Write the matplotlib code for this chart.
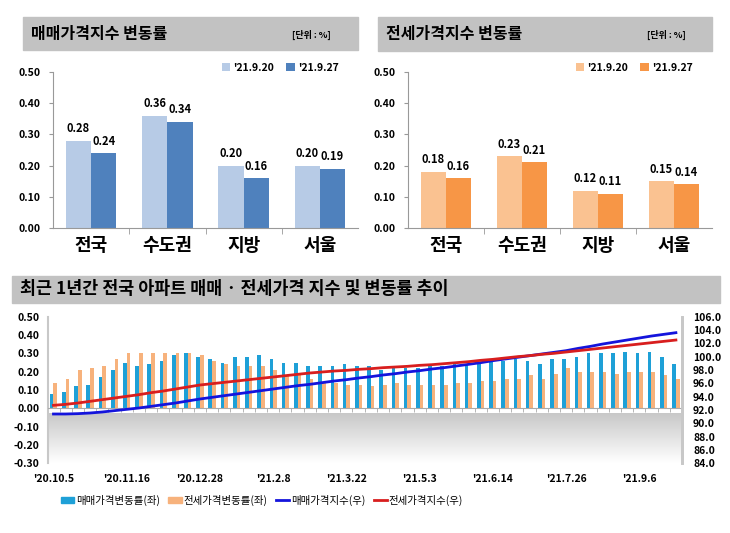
import numpy as np
import matplotlib
matplotlib.use("Agg")
import matplotlib.pyplot as plt
from matplotlib.patches import Rectangle, Patch
from matplotlib.lines import Line2D

plt.rcParams['font.family'] = ['Noto Sans CJK KR', 'DejaVu Sans']

# -----------------------------
# data
# -----------------------------
regions = ["전국", "수도권", "지방", "서울"]
week_labels = ["'21.9.20", "'21.9.27"]
sale_prev = [0.28, 0.36, 0.20, 0.20]
sale_last = [0.24, 0.34, 0.16, 0.19]
jeonse_prev = [0.18, 0.23, 0.12, 0.15]
jeonse_last = [0.16, 0.21, 0.11, 0.14]

tick_dates = ["'20.10.5", "'20.11.16", "'20.12.28", "'21.2.8", "'21.3.22",
              "'21.5.3", "'21.6.14", "'21.7.26", "'21.9.6"]

# weekly change rate (%), 52 weeks from '20.10.5 to '21.9.27
sale_rate = [0.08, 0.09, 0.12, 0.13, 0.17, 0.21, 0.25, 0.23, 0.24, 0.26,
             0.29, 0.30, 0.28, 0.27, 0.25, 0.28, 0.28, 0.29, 0.27, 0.25,
             0.25, 0.23, 0.23, 0.23, 0.24, 0.23, 0.23, 0.21, 0.23, 0.22,
             0.22, 0.23, 0.23, 0.24, 0.24, 0.25, 0.26, 0.26, 0.27, 0.26,
             0.24, 0.27, 0.27, 0.28, 0.30, 0.30, 0.30, 0.31, 0.30, 0.31,
             0.28, 0.24]
jeonse_rate = [0.14, 0.16, 0.21, 0.22, 0.23, 0.27, 0.30, 0.30, 0.30, 0.30,
               0.30, 0.30, 0.29, 0.26, 0.24, 0.23, 0.23, 0.23, 0.21, 0.18,
               0.18, 0.16, 0.14, 0.14, 0.13, 0.13, 0.12, 0.13, 0.14, 0.13,
               0.13, 0.13, 0.13, 0.14, 0.14, 0.15, 0.15, 0.16, 0.16, 0.18,
               0.16, 0.19, 0.22, 0.20, 0.20, 0.20, 0.19, 0.20, 0.20, 0.20,
               0.18, 0.16]
# price index (right axis)
sale_index = [91.40, 91.40, 91.45, 91.55, 91.70, 91.90, 92.10, 92.30, 92.55, 92.80,
              93.05, 93.35, 93.65, 93.90, 94.15, 94.40, 94.65, 94.90, 95.15, 95.40,
              95.65, 95.85, 96.10, 96.35, 96.55, 96.80, 97.00, 97.25, 97.45, 97.70,
              97.90, 98.15, 98.35, 98.60, 98.85, 99.10, 99.40, 99.65, 99.90, 100.15,
              100.40, 100.65, 100.90, 101.25, 101.55, 101.90, 102.20, 102.50, 102.80, 103.10,
              103.35, 103.60]
jeonse_index = [92.70, 92.85, 93.05, 93.30, 93.55, 93.80, 94.05, 94.30, 94.60, 94.85,
                95.15, 95.45, 95.75, 95.95, 96.15, 96.35, 96.55, 96.75, 96.95, 97.15,
                97.35, 97.55, 97.70, 97.85, 97.95, 98.10, 98.20, 98.35, 98.45, 98.55,
                98.70, 98.80, 98.95, 99.10, 99.25, 99.45, 99.60, 99.80, 100.00, 100.15,
                100.35, 100.50, 100.70, 100.90, 101.10, 101.30, 101.50, 101.70, 101.90, 102.10,
                102.30, 102.50]

W, H = 730, 533
fig = plt.figure(figsize=(W / 100, H / 100), dpi=100)


def fx(x):
    return x / W


def fy(y):
    return 1 - y / H


def header(x0, x1, y0, y1, title, size, unit=None, unit_x=None):
    fig.patches.append(Rectangle((fx(x0), fy(y1)), fx(x1 - x0), (y1 - y0) / H,
                                 transform=fig.transFigure, color="#c2c2c2", zorder=0))
    fig.text(fx(x0 + 8), fy((y0 + y1) / 2), title, fontsize=size, fontweight="bold",
             va="center", ha="left")
    if unit:
        fig.text(fx(unit_x), fy((y0 + y1) / 2 + 1), unit, fontsize=6.5, fontweight="bold",
                 va="center", ha="right")


def small_bar_chart(rect, prev, last, c_prev, c_last, legend_x):
    ax = fig.add_axes(rect)
    x = np.arange(len(regions))
    w = 0.33
    b1 = ax.bar(x - w / 2, prev, w, color=c_prev, label=week_labels[0])
    b2 = ax.bar(x + w / 2, last, w, color=c_last, label=week_labels[1])
    ax.bar_label(b1, fmt="%.2f", padding=4, fontsize=8, fontweight="bold")
    ax.bar_label(b2, fmt="%.2f", padding=4, fontsize=8, fontweight="bold")
    ax.set_xlim(-0.5, 3.5)
    ax.set_ylim(0, 0.5)
    ax.set_yticks(np.arange(0, 0.51, 0.1))
    ax.set_yticklabels(["%.2f" % v for v in np.arange(0, 0.51, 0.1)],
                       fontsize=7.5, fontweight="bold")
    ax.set_xticks(x)
    ax.set_xticklabels(regions, fontsize=13, fontweight="bold")
    ax.set_xticks([0.5, 1.5, 2.5], minor=True)
    ax.tick_params(axis="x", which="major", length=0, pad=6)
    ax.tick_params(axis="x", which="minor", length=4, color="#999999")
    ax.tick_params(axis="y", length=3, color="#999999", pad=6)
    for s in ["top", "right"]:
        ax.spines[s].set_visible(False)
    for s in ["left", "bottom"]:
        ax.spines[s].set_color("#999999")
    fig.legend(handles=[b1, b2], loc="center right", bbox_to_anchor=(fx(legend_x), fy(68)),
               ncol=2, frameon=False, handlelength=0.8, handleheight=0.8,
               handletextpad=0.3, columnspacing=1.2,
               prop={"size": 7.5, "weight": "bold"})
    return ax


# -----------------------------
# top panels
# -----------------------------
header(23, 358, 17, 50, "매매가격지수 변동률", 11.5, "[단위 : %]", 331)
header(378, 712, 17, 51, "전세가격지수 변동률", 11.5, "[단위 : %]", 686)

small_bar_chart([fx(53), fy(228), fx(305), 156 / H], sale_prev, sale_last,
                "#b7cbe6", "#4f81bd", 348)
small_bar_chart([fx(408), fy(228), fx(304), 156 / H], jeonse_prev, jeonse_last,
                "#fac291", "#f79646", 702)

# -----------------------------
# bottom panel
# -----------------------------
header(12, 720, 276, 303, "최근 1년간 전국 아파트 매매 · 전세가격 지수 및 변동률 추이", 12.5)

ax = fig.add_axes([fx(48), fy(463.3), fx(634), 146.6 / H])
n = len(sale_rate)
xs = np.arange(n)
bw = 0.3

# grey gradient floor below zero
grad = np.linspace(1, 0, 100).reshape(-1, 1)
ax.imshow(grad, extent=[-0.45, n - 0.5, -0.30, -0.03], aspect="auto",
          cmap=matplotlib.colors.LinearSegmentedColormap.from_list("g", ["#ffffff", "#c8c8c8"]),
          vmin=0, vmax=1, zorder=0, origin="upper")

ax.bar(xs - bw, sale_rate, bw, align="edge", color="#1ea0d7", zorder=2)
ax.bar(xs, jeonse_rate, bw, align="edge", color="#f7b27c", zorder=2)
ax.set_xlim(-0.45, n - 0.5)
ax.set_ylim(-0.30, 0.50)
yt = np.arange(-0.3, 0.51, 0.1)
ax.set_yticks(yt)
ax.set_yticklabels(["%.2f" % v if abs(v) > 1e-9 else "0.00" for v in yt],
                   fontsize=7.5, fontweight="bold")
ax.tick_params(axis="y", length=0, pad=6)

ax.spines["bottom"].set_position(("data", 0))
ax.spines["bottom"].set_color("#aaaaaa")
ax.spines["top"].set_visible(False)
ax.spines["right"].set_color("#c8c8c8")
ax.spines["right"].set_linewidth(2)
ax.spines["left"].set_color("#c8c8c8")
ax.spines["left"].set_linewidth(1.5)
ax.set_xticks(xs[::6])
ax.set_xticklabels(tick_dates, fontsize=7.5, fontweight="bold")
ax.set_xticks(xs[:-1] + 0.5, minor=True)
ax.tick_params(axis="x", which="major", length=0, pad=47)
ax.tick_params(axis="x", which="minor", length=3, color="#aaaaaa")

ax2 = ax.twinx()
ax2.plot(xs, sale_index, color="#1414dc", lw=2, zorder=3)
ax2.plot(xs, jeonse_index, color="#d81e1e", lw=2, zorder=3)
ax2.set_ylim(84, 106)
rt = np.arange(84, 106.1, 2)
ax2.set_yticks(rt)
ax2.set_yticklabels(["%.1f" % v for v in rt], fontsize=7.5, fontweight="bold")
ax2.tick_params(axis="y", length=0, pad=8)
for s in ["top", "left", "bottom"]:
    ax2.spines[s].set_visible(False)
ax2.spines["right"].set_color("#c8c8c8")
ax2.spines["right"].set_linewidth(2)

handles = [Patch(color="#1ea0d7"), Patch(color="#f7b27c"),
           Line2D([], [], color="#1414dc", lw=2), Line2D([], [], color="#d81e1e", lw=2)]
labels = ["매매가격변동률(좌)", "전세가격변동률(좌)", "매매가격지수(우)", "전세가격지수(우)"]
fig.legend(handles, labels, loc="center", bbox_to_anchor=(fx(262), fy(500)), ncol=4,
           frameon=False, fontsize=7.5, handlelength=1.3, handleheight=0.5,
           handletextpad=0.15, columnspacing=0.8)

fig.savefig("out.png", dpi=100, facecolor="white")
